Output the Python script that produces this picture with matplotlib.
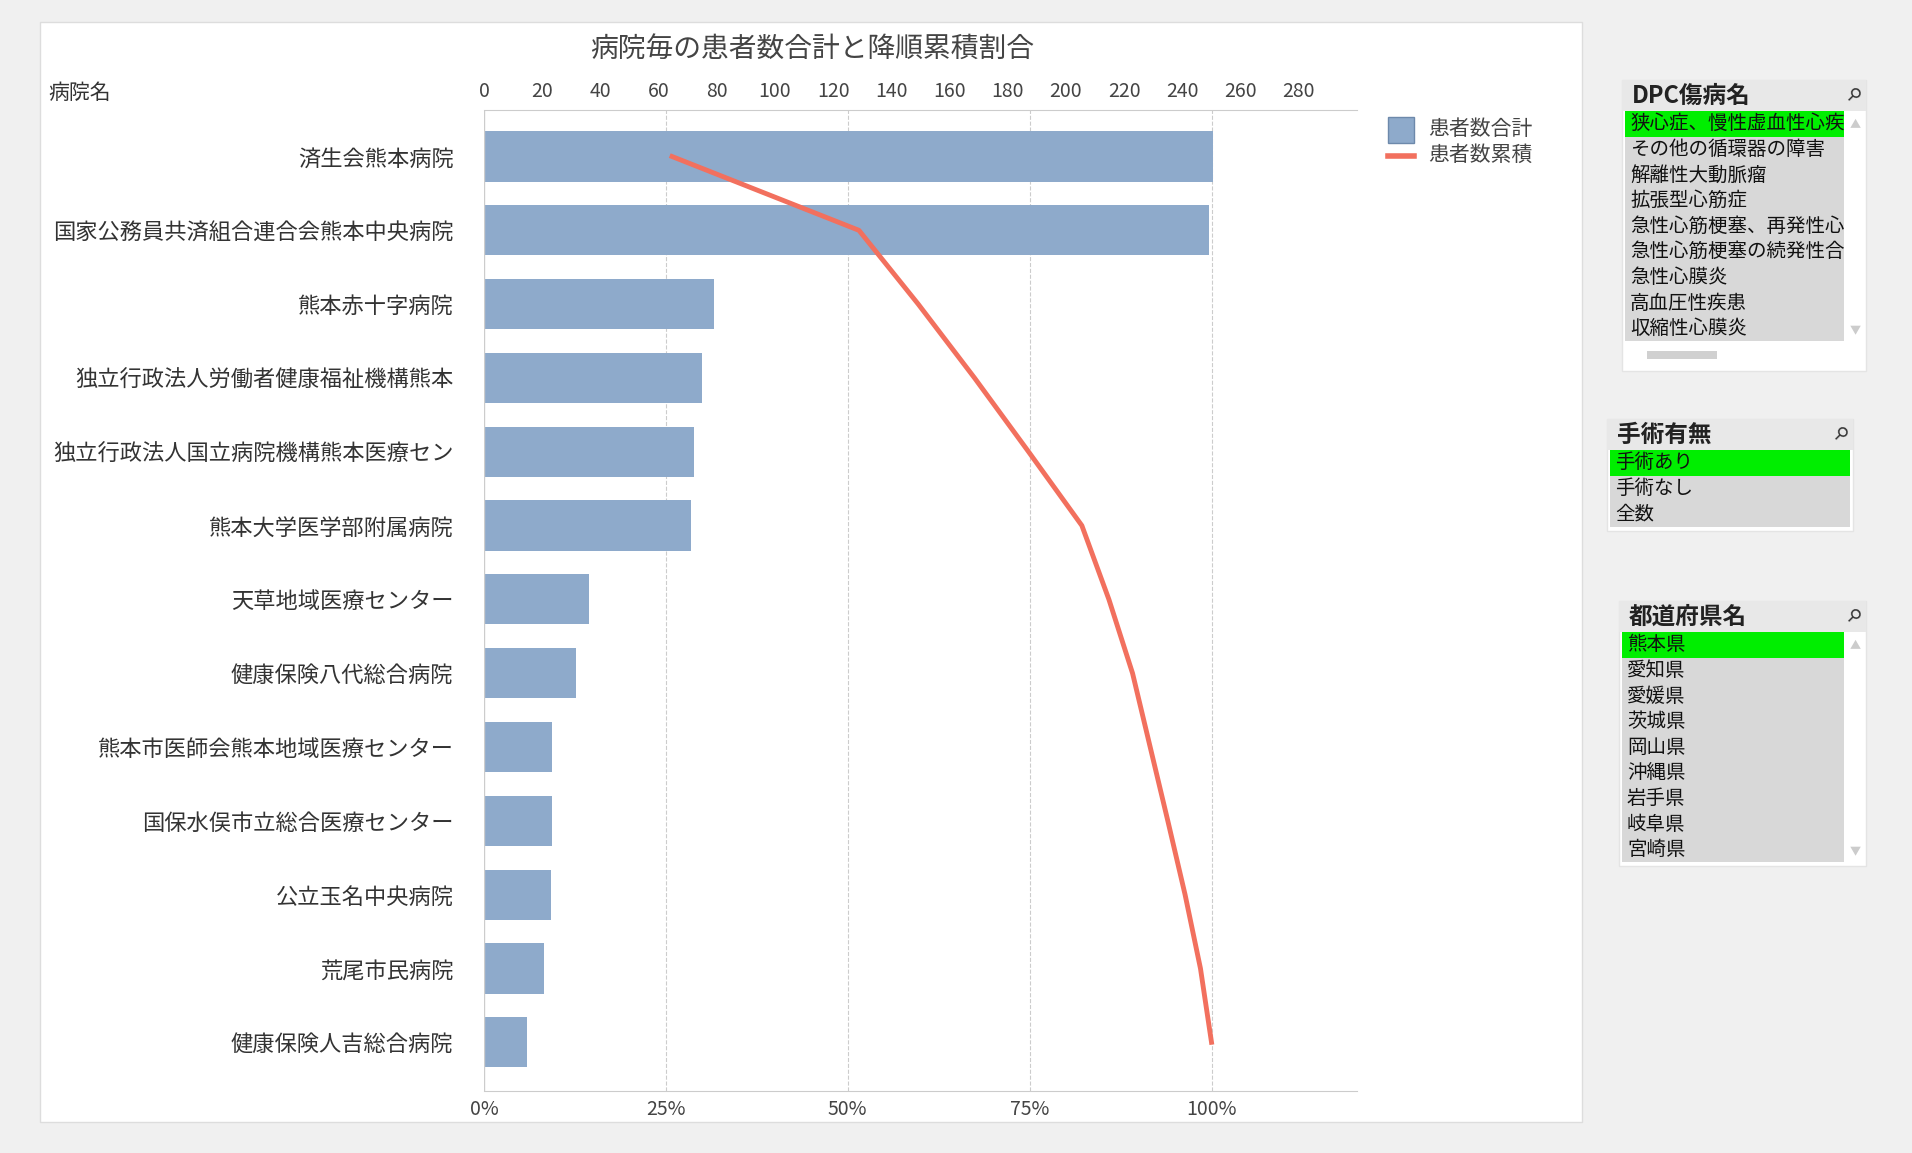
import numpy as np
import matplotlib.pyplot as plt
from matplotlib.patches import Rectangle
from matplotlib.ticker import PercentFormatter

plt.rcParams['font.family'] = ['Noto Sans CJK JP', 'DejaVu Sans']

hospitals = ['済生会熊本病院', '国家公務員共済組合連合会熊本中央病院', '熊本赤十字病院',
             '独立行政法人労働者健康福祉機構熊本', '独立行政法人国立病院機構熊本医療セン',
             '熊本大学医学部附属病院', '天草地域医療センター', '健康保険八代総合病院',
             '熊本市医師会熊本地域医療センター', '国保水俣市立総合医療センター',
             '公立玉名中央病院', '荒尾市民病院', '健康保険人吉総合病院']
patients = [250.5, 249, 79, 75, 72, 71, 36, 31.5, 23.5, 23.5, 23, 20.5, 14.7]

dpc_items = ['狭心症、慢性虚血性心疾', 'その他の循環器の障害', '解離性大動脈瘤', '拡張型心筋症',
             '急性心筋梗塞、再発性心', '急性心筋梗塞の続発性合', '急性心膜炎', '高血圧性疾患', '収縮性心膜炎']
surgery_items = ['手術あり', '手術なし', '全数']
pref_items = ['熊本県', '愛知県', '愛媛県', '茨城県', '岡山県', '沖縄県', '岩手県', '岐阜県', '宮崎県']

W, H = 1912, 1153
fig = plt.figure(figsize=(W / 100, H / 100), dpi=100, facecolor='#f0f0f0')


def fx(x):
    return x / W


def fy(y):
    return 1 - y / H


def box(x0, y0, x1, y1, color, z=0, ec='none'):
    fig.patches.append(Rectangle((fx(x0), fy(y1)), fx(x1 - x0), (y1 - y0) / H,
                                 transform=fig.transFigure, facecolor=color,
                                 edgecolor=ec, zorder=z))


# chart panel
box(40, 22, 1582, 1122, 'white', z=-5, ec='#dddddd')

ax = fig.add_axes([fx(484), fy(1091), fx(1357 - 484), (1091 - 110) / H])
ax.patch.set_visible(False)
y = np.arange(len(hospitals))
ax.barh(y, patients, height=0.68, color='#8eaacb', zorder=2)
ax.set_xlim(0, 300)
ax.set_ylim(len(hospitals) - 1 + 0.66, -0.63)

cum = np.cumsum(patients) / np.sum(patients)
ax2 = ax.twiny()
ax2.set_xlim(0, 1.2)
ax2.xaxis.tick_bottom()
ax2.set_xticks([0, 0.25, 0.5, 0.75, 1.0])
ax2.xaxis.set_major_formatter(PercentFormatter(1.0, decimals=0))
ax2.tick_params(axis='x', labelsize=14, colors='#444444', length=0, pad=6)
for s in ['right', 'left', 'top']:
    ax2.spines[s].set_visible(False)
ax2.spines['bottom'].set_color('#cccccc')
ax2.plot(cum, y, color='#f2705e', lw=3.5, zorder=4)
ax2.patch.set_visible(False)
for v in [0.25, 0.5, 0.75, 1.0]:
    ax.axvline(v / 1.2 * 300, color='#cccccc', ls='--', lw=0.8, zorder=0)

ax.xaxis.tick_top()
ax.set_xticks(range(0, 281, 20))
ax.set_yticks(y)
ax.set_yticklabels(hospitals, fontsize=16, color='#333333')
ax.tick_params(axis='y', length=0, pad=22)
ax.tick_params(axis='x', labelsize=14, colors='#444444', length=0, pad=6,
               top=True, labeltop=True, bottom=False, labelbottom=False)
for s in ['right', 'bottom', 'left']:
    ax.spines[s].set_visible(False)
ax.spines['top'].set_color('#cccccc')
ax.axvline(0, color='#cccccc', lw=1, zorder=3)

fig.text(fx(812), fy(49), '病院毎の患者数合計と降順累積割合', fontsize=20, color='#444444',
         ha='center', va='center')
fig.text(fx(48), fy(93), '病院名', fontsize=15, color='#333333', va='center')

# legend
box(1388, 117, 1414, 143, '#8eaacb', z=3, ec='#6d89ab')
fig.text(fx(1428), fy(129), '患者数合計', fontsize=15, color='#444444', va='center')
fig.lines.append(plt.Line2D([fx(1388), fx(1414)], [fy(156), fy(156)], color='#f2705e', lw=4,
                            transform=fig.transFigure))
fig.text(fx(1428), fy(155), '患者数累積', fontsize=15, color='#444444', va='center')


def listbox(x0, y0, x1, title, items, scroll=True, hbar=False, row=25.6):
    hh = 31
    y1 = y0 + hh + row * len(items) + (26 if hbar else 0) + 4
    box(x0, y0, x1, y1, 'white', z=1, ec='#e4e4e4')
    box(x0, y0, x1, y0 + hh, '#e8e8e8', z=1)
    fig.text(fx(x0 + 10), fy(y0 + hh / 2), title, fontsize=17, color='#222222',
             va='center', weight='bold', zorder=5)
    fig.text(fx(x1 - 14), fy(y0 + hh / 2), '⚲', fontsize=13, color='#333333',
             va='center', ha='center', zorder=5, rotation=-45)
    right = x1 - (22 if scroll else 3)
    for i, it in enumerate(items):
        ty = y0 + hh + i * row
        box(x0 + 3, ty, right, ty + row, '#00ee00' if i == 0 else '#d8d8d8', z=2)
        fig.text(fx(x0 + 8), fy(ty + row / 2), it, fontsize=14, color='#111111',
                 va='center', zorder=5)
    if scroll:
        fig.text(fx(x1 - 11), fy(y0 + hh + 14), '▲', fontsize=8, color='#cccccc',
                 ha='center', va='center', zorder=5)
        fig.text(fx(x1 - 11), fy(y0 + hh + row * len(items) - 10), '▼', fontsize=8,
                 color='#cccccc', ha='center', va='center', zorder=5)
    if hbar:
        yb = y0 + hh + row * len(items) + 14
        box(x0 + 25, yb - 4, x0 + 95, yb + 4, '#d0d0d0', z=3)


listbox(1622, 80, 1866, 'DPC傷病名', dpc_items, hbar=True)
listbox(1607, 419, 1853, '手術有無', surgery_items, scroll=False)
listbox(1619, 601, 1866, '都道府県名', pref_items)

fig.savefig('out.png', dpi=100, facecolor=fig.get_facecolor())
